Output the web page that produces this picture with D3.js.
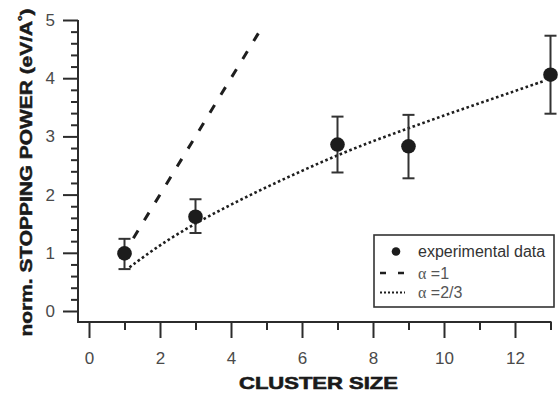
<!DOCTYPE html>
<html>
<head>
<meta charset="utf-8">
<script src="https://cdn.jsdelivr.net/npm/d3@7"></script>
<style>
  html, body { margin: 0; padding: 0; background: #fff; }
  svg { display: block; }
  text { font-family: "Liberation Sans", Arial, sans-serif; }
</style>
</head>
<body>
<svg id="chart" width="558" height="394"></svg>
<script>
// Measured stopping power per cluster size
const clusterSize = [1, 3, 7, 9, 13];
const stoppingPower = [0.99, 1.62, 2.86, 2.83, 4.06];
const errLow = [0.72, 1.34, 2.38, 2.28, 3.39];
const errHigh = [1.24, 1.92, 3.34, 3.37, 4.73];

// Scaling with alpha = 1
const alpha1X = [1.25, 4.88];
const alpha1Y = [1.25, 4.88];

// Scaling with alpha = 2/3
const alpha23X = [1.14, 2, 3, 4, 5, 6, 7, 8, 9, 10, 11, 12, 12.85];
const alpha23Y = [0.75, 1.14, 1.51, 1.83, 2.13, 2.41, 2.68, 2.92, 3.14, 3.36, 3.57, 3.78, 3.96];

const xMajorTicks = [0, 2, 4, 6, 8, 10, 12];
const xMinorTicks = [1, 3, 5, 7, 9, 11, 13];
const yMajorTicks = [0, 1, 2, 3, 4, 5];

const legendLabels = ["experimental data", "=1", "=2/3"];

const svg = d3.select("#chart");
const ink = "#2b2b2b";
const labelInk = "#4a4a4a";

const x = d3.scaleLinear().domain([0, 13]).range([89, 550.5]);
const y = d3.scaleLinear().domain([0, 5]).range([311, 20]);
const axisX0 = 78;   // left edge of plot frame
const axisY0 = 322;  // bottom edge of plot frame

// ----- axes -----
const xMajor = svg.append("g")
  .attr("transform", `translate(0,${axisY0})`)
  .call(d3.axisBottom(x).tickValues(xMajorTicks).tickSize(16).tickPadding(14).tickFormat(d3.format("d")));
const xMinor = svg.append("g")
  .attr("transform", `translate(0,${axisY0})`)
  .call(d3.axisBottom(x).tickValues(xMinorTicks).tickSize(8).tickFormat(""));

const yMinorVals = d3.range(0, 26).map(i => i / 5).filter(v => !yMajorTicks.includes(+v.toFixed(4)));
const yMajor = svg.append("g")
  .attr("transform", `translate(${axisX0},0)`)
  .call(d3.axisLeft(y).tickValues(yMajorTicks).tickSize(15).tickPadding(8).tickFormat(d3.format("d")));
const yMinor = svg.append("g")
  .attr("transform", `translate(${axisX0},0)`)
  .call(d3.axisLeft(y).tickValues(yMinorVals).tickSize(7).tickFormat(""));

[xMajor, xMinor, yMajor, yMinor].forEach(g => {
  g.select(".domain").remove();
  g.selectAll(".tick line").attr("stroke", ink).attr("stroke-width", 2);
  g.selectAll(".tick text")
    .attr("fill", labelInk)
    .style("font-size", "17px")
    .style("font-family", "'Liberation Sans', Arial, sans-serif");
});

// frame lines of the axes
svg.append("line")
  .attr("x1", axisX0).attr("x2", axisX0)
  .attr("y1", y(5)).attr("y2", axisY0 + 1)
  .attr("stroke", ink).attr("stroke-width", 2);
svg.append("line")
  .attr("x1", axisX0 - 1).attr("x2", x(13) + 1)
  .attr("y1", axisY0).attr("y2", axisY0)
  .attr("stroke", ink).attr("stroke-width", 2);

// ----- model curves -----
const line = d3.line().x(d => x(d[0])).y(d => y(d[1]));

svg.append("path")
  .datum(alpha1X.map((v, i) => [v, alpha1Y[i]]))
  .attr("d", line)
  .attr("fill", "none")
  .attr("stroke", "#1e1e1e")
  .attr("stroke-width", 3)
  .attr("stroke-dasharray", "9,12");

svg.append("path")
  .datum(alpha23X.map((v, i) => [v, alpha23Y[i]]))
  .attr("d", line.curve(d3.curveBasis))
  .attr("fill", "none")
  .attr("stroke", "#1e1e1e")
  .attr("stroke-width", 2.6)
  .attr("stroke-dasharray", "2.6,2.6");

// ----- experimental points with error bars -----
const pts = clusterSize.map((c, i) => ({ c, v: stoppingPower[i], lo: errLow[i], hi: errHigh[i] }));
const eb = svg.append("g").attr("stroke", "#333").attr("stroke-width", 2);
eb.selectAll("line.v").data(pts).join("line").attr("class", "v")
  .attr("x1", d => x(d.c)).attr("x2", d => x(d.c))
  .attr("y1", d => y(d.lo)).attr("y2", d => y(d.hi));
eb.selectAll("line.t").data(pts).join("line").attr("class", "t")
  .attr("x1", d => x(d.c) - 6).attr("x2", d => x(d.c) + 6)
  .attr("y1", d => y(d.hi)).attr("y2", d => y(d.hi));
eb.selectAll("line.b").data(pts).join("line").attr("class", "b")
  .attr("x1", d => x(d.c) - 6).attr("x2", d => x(d.c) + 6)
  .attr("y1", d => y(d.lo)).attr("y2", d => y(d.lo));

svg.append("g").selectAll("circle").data(pts).join("circle")
  .attr("cx", d => x(d.c)).attr("cy", d => y(d.v)).attr("r", 7.3)
  .attr("fill", "#1c1c1c");

// ----- axis titles -----
svg.append("text")
  .attr("x", 318.5).attr("y", 389)
  .attr("text-anchor", "middle")
  .attr("textLength", 159).attr("lengthAdjust", "spacingAndGlyphs")
  .style("font-size", "17px").style("font-weight", "bold")
  .attr("fill", "#1a1a1a").attr("stroke", "#1a1a1a").attr("stroke-width", 0.6)
  .text("CLUSTER SIZE");

const yt = svg.append("text")
  .attr("transform", "translate(32,172.5) rotate(-90)")
  .attr("text-anchor", "middle")
  .attr("textLength", 328).attr("lengthAdjust", "spacingAndGlyphs")
  .style("font-size", "17px").style("font-weight", "bold")
  .attr("fill", "#1a1a1a").attr("stroke", "#1a1a1a").attr("stroke-width", 0.5);
yt.append("tspan").text("norm. STOPPING POWER (eV/A");
yt.append("tspan").attr("dy", -6).style("font-size", "11px").text("°");
yt.append("tspan").attr("dy", 6).text(")");

// ----- legend -----
const lg = svg.append("g");
lg.append("rect")
  .attr("x", 374).attr("y", 235).attr("width", 180).attr("height", 72)
  .attr("fill", "#fff").attr("stroke", "#333").attr("stroke-width", 1.6);
const rows = [251.5, 273, 292.5];
lg.append("circle").attr("cx", 396).attr("cy", rows[0]).attr("r", 4.3).attr("fill", "#1c1c1c");
lg.append("line").attr("x1", 380).attr("x2", 404).attr("y1", rows[1]).attr("y2", rows[1])
  .attr("stroke", "#1e1e1e").attr("stroke-width", 2.6).attr("stroke-dasharray", "6,12");
lg.append("line").attr("x1", 380).attr("x2", 405).attr("y1", rows[2]).attr("y2", rows[2])
  .attr("stroke", "#1e1e1e").attr("stroke-width", 2).attr("stroke-dasharray", "2,2");

lg.append("text").attr("x", 418).attr("y", rows[0]).attr("dy", "0.35em")
  .style("font-size", "16px").attr("fill", "#333").text(legendLabels[0]);
[1, 2].forEach(i => {
  const t = lg.append("text").attr("x", 418).attr("y", rows[i]).attr("dy", "0.35em")
    .style("font-size", "16px").attr("fill", "#555");
  t.append("tspan").style("font-family", "'Liberation Serif', 'Times New Roman', serif").text("α");
  t.append("tspan").text(" " + legendLabels[i]);
});
</script>
</body>
</html>
